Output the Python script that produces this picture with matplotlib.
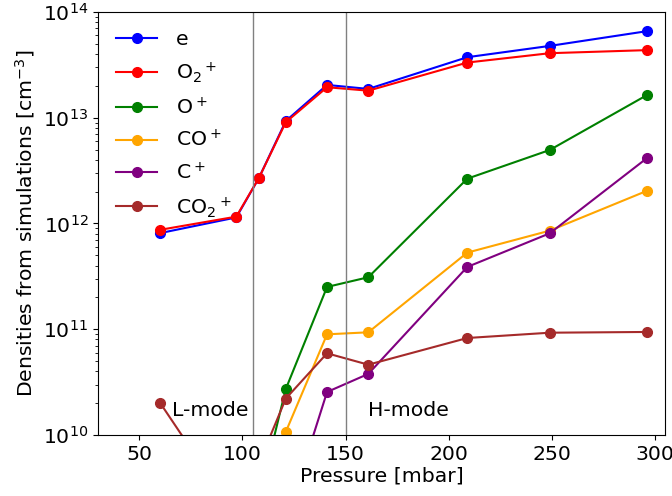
import numpy as np
import matplotlib.pyplot as plt

pressure = [60, 97, 108, 121, 141, 161, 209, 249, 296]

n_e = [8.1e11, 1.14e12, 2.7e12, 9.3e12, 2.04e13, 1.87e13, 3.73e13, 4.77e13, 6.57e13]
n_o2 = [8.7e11, 1.16e12, 2.7e12, 9.06e12, 1.94e13, 1.80e13, 3.32e13, 4.07e13, 4.35e13]
n_o = [1e8, 5e8, 2.5e9, 2.72e10, 2.51e11, 3.1e11, 2.65e12, 4.95e12, 1.63e13]
n_co = [1e8, 3e8, 1e9, 1.07e10, 8.95e10, 9.35e10, 5.3e11, 8.55e11, 2.03e12]
n_c = [1e8, 2e8, 4e8, 1.5e9, 2.55e10, 3.78e10, 3.88e11, 8.07e11, 4.13e12]
n_co2 = [2.02e10, 1.7e9, 5.4e9, 2.21e10, 5.92e10, 4.62e10, 8.26e10, 9.27e10, 9.42e10]

series = [
    (n_e, 'e', 'blue'),
    (n_o2, 'O$_2$$^+$', 'red'),
    (n_o, 'O$^+$', 'green'),
    (n_co, 'CO$^+$', 'orange'),
    (n_c, 'C$^+$', 'purple'),
    (n_co2, 'CO$_2$$^+$', 'brown'),
]

plt.rcParams['font.size'] = 14.7
fig = plt.figure(figsize=(6.72, 4.96), dpi=100)
ax = fig.add_axes([0.146, 0.123, 0.844, 0.853])

for vals, lab, col in series:
    ax.plot(pressure, vals, '-o', color=col, label=lab, markersize=7)

ax.axvline(105, color='gray', lw=1)
ax.axvline(150, color='gray', lw=1)
ax.text(66, 1.72e10, 'L-mode', va='center')
ax.text(161, 1.72e10, 'H-mode', va='center')

ax.set_yscale('log')
ax.set_ylim(1e10, 1e14)
ax.set_xlim(30, 305)
ax.set_xlabel('Pressure [mbar]', labelpad=2)
ax.set_ylabel('Densities from simulations [cm$^{-3}$]')
ax.legend(loc='upper left', frameon=False, labelspacing=0.56,
          borderaxespad=0.5, handletextpad=0.9)

fig.savefig('out.png')
